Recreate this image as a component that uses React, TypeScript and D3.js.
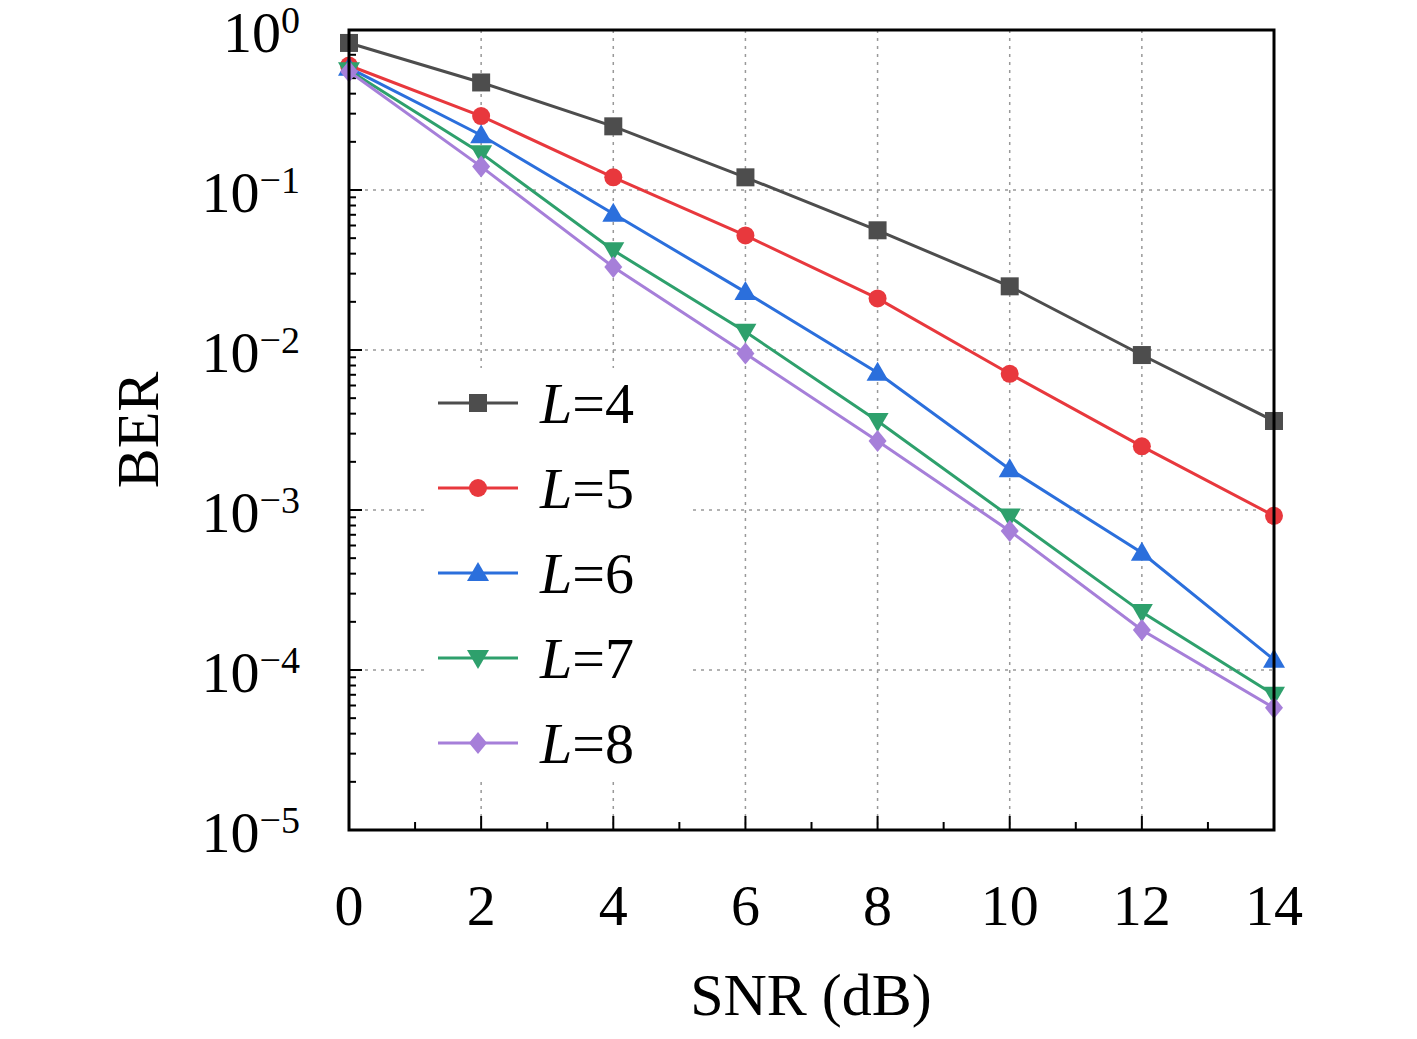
import * as d3 from "d3";

const snr = [0, 2, 4, 6, 8, 10, 12, 14];
const labels = ["4", "5", "6", "7", "8"];
const colors = ["#4d4d4d", "#e8383d", "#2b6fdc", "#2ea06c", "#a67fd9"];
const markers = ["square", "circle", "triangle", "triangleDown", "diamond"];
const ber4 = [0.83, 0.47, 0.25, 0.12, 0.056, 0.025, 0.0093, 0.0036];
const ber5 = [0.6, 0.29, 0.12, 0.052, 0.021, 0.0071, 0.0025, 0.00092];
const ber6 = [0.58, 0.22, 0.071, 0.023, 0.0072, 0.0018, 0.00054, 0.000116];
const ber7 = [0.56, 0.17, 0.042, 0.013, 0.0036, 0.00091, 0.00023, 0.00007];
const ber8 = [0.55, 0.14, 0.033, 0.0095, 0.0027, 0.00074, 0.000178, 0.000058];
const series = [ber4, ber5, ber6, ber7, ber8];
const yExps = [0, -1, -2, -3, -4, -5];

const FONT = "'Liberation Serif', 'DejaVu Serif', serif";

function Marker({ kind, x, y, color }: { kind: string; x: number; y: number; color: string }) {
  const s = 9;
  if (kind === "square") return <rect x={x - s} y={y - s} width={2 * s} height={2 * s} fill={color} />;
  if (kind === "circle") return <circle cx={x} cy={y} r={s} fill={color} />;
  if (kind === "triangle")
    return <path d={`M${x},${y - 11}L${x + 11},${y + 8}L${x - 11},${y + 8}Z`} fill={color} />;
  if (kind === "triangleDown")
    return <path d={`M${x},${y + 11}L${x + 11},${y - 8}L${x - 11},${y - 8}Z`} fill={color} />;
  return <path d={`M${x},${y - 11}L${x + 9},${y}L${x},${y + 11}L${x - 9},${y}Z`} fill={color} />;
}

export default function App() {
  const W = 1417, H = 1039;
  const x = d3.scaleLinear().domain([0, 14]).range([349, 1274]);
  const y = d3.scaleLog().domain([1e-5, 1]).range([830, 30]);
  const line = d3.line<number>().x((_, i) => x(snr[i])).y((d) => y(d));
  const minorY: number[] = [];
  for (let e = -5; e < 0; e++) for (let k = 2; k <= 9; k++) minorY.push(k * Math.pow(10, e));
  const minorX = d3.range(1, 14, 2);
  const legX = 478, legY0 = 403, legDy = 85;
  return (
    <svg width={W} height={H} style={{ position: "absolute", left: 0, top: 0, background: "#fff" }}>
      <rect width={W} height={H} fill="#fff" />
      {snr.slice(1, -1).map((v) => (
        <line key={"gx" + v} x1={x(v)} x2={x(v)} y1={30} y2={830} stroke="#999" strokeWidth={1.5} strokeDasharray="3,5" />
      ))}
      {yExps.slice(1, -1).map((e) => (
        <line key={"gy" + e} x1={349} x2={1274} y1={y(Math.pow(10, e))} y2={y(Math.pow(10, e))} stroke="#999" strokeWidth={1.5} strokeDasharray="3,5" />
      ))}
      {minorX.map((v) => (
        <line key={"mx" + v} x1={x(v)} x2={x(v)} y1={830} y2={822} stroke="#000" strokeWidth={2} />
      ))}
      {snr.slice(1, -1).map((v) => (
        <line key={"tx" + v} x1={x(v)} x2={x(v)} y1={830} y2={816} stroke="#000" strokeWidth={2} />
      ))}
      {minorY.map((v, i) => (
        <line key={"my" + i} x1={349} x2={356} y1={y(v)} y2={y(v)} stroke="#000" strokeWidth={2} />
      ))}
      {yExps.map((e) => (
        <line key={"ty" + e} x1={349} x2={362} y1={y(Math.pow(10, e))} y2={y(Math.pow(10, e))} stroke="#000" strokeWidth={2} />
      ))}
      <rect x={425} y={368} width={265} height={410} fill="#fff" />
      {series.map((s, si) => (
        <g key={si}>
          <path d={line(s)!} fill="none" stroke={colors[si]} strokeWidth={3} />
          {s.map((d, i) => (
            <Marker key={i} kind={markers[si]} x={x(snr[i])} y={y(d)} color={colors[si]} />
          ))}
        </g>
      ))}
      <rect x={349} y={30} width={925} height={800} fill="none" stroke="#000" strokeWidth={3} />
      {snr.map((v) => (
        <text key={"lx" + v} x={x(v)} y={925} textAnchor="middle" fontFamily={FONT} fontSize={58}>{v}</text>
      ))}
      {yExps.map((e) => (
        <text key={"ly" + e} x={300} y={y(Math.pow(10, e)) + 22} textAnchor="end" fontFamily={FONT} fontSize={58}>
          10
          <tspan dy={-19} fontSize={38}>{e === 0 ? "0" : "\u2212" + -e}</tspan>
        </text>
      ))}
      <text x={811} y={1015} textAnchor="middle" fontFamily={FONT} fontSize={60}>SNR (dB)</text>
      <text transform="translate(158,430) rotate(-90)" textAnchor="middle" fontFamily={FONT} fontSize={60}>BER</text>
      {labels.map((l, i) => (
        <g key={"lg" + l}>
          <line x1={legX - 40} x2={legX + 40} y1={legY0 + i * legDy} y2={legY0 + i * legDy} stroke={colors[i]} strokeWidth={3} />
          <Marker kind={markers[i]} x={legX} y={legY0 + i * legDy} color={colors[i]} />
          <text x={540} y={legY0 + i * legDy + 20} fontFamily={FONT} fontSize={58}>
            <tspan fontStyle="italic">L</tspan>={l}
          </text>
        </g>
      ))}
    </svg>
  );
}
